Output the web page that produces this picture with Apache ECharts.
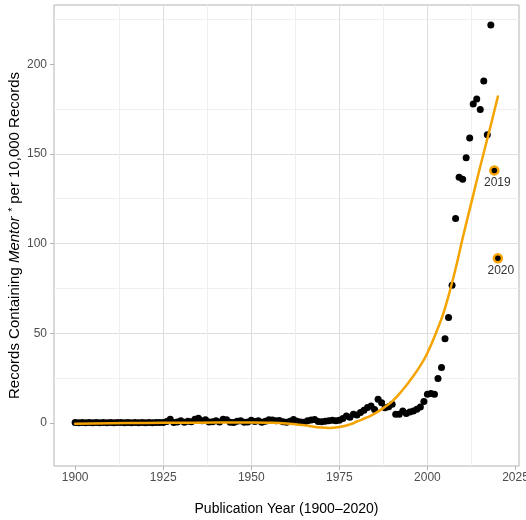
<!DOCTYPE html>
<html>
<head>
<meta charset="utf-8">
<script src="https://cdn.jsdelivr.net/npm/echarts@6/dist/echarts.min.js"></script>
<style>
  html, body { margin: 0; padding: 0; background: #fff; }
  #chart { width: 526px; height: 520px; }
</style>
</head>
<body>
<div id="chart"></div>
<script>
const years = [
  1900,1901,1902,1903,1904,1905,1906,1907,1908,1909,
  1910,1911,1912,1913,1914,1915,1916,1917,1918,1919,
  1920,1921,1922,1923,1924,1925,1926,1927,1928,1929,
  1930,1931,1932,1933,1934,1935,1936,1937,1938,1939,
  1940,1941,1942,1943,1944,1945,1946,1947,1948,1949,
  1950,1951,1952,1953,1954,1955,1956,1957,1958,1959,
  1960,1961,1962,1963,1964,1965,1966,1967,1968,1969,
  1970,1971,1972,1973,1974,1975,1976,1977,1978,1979,
  1980,1981,1982,1983,1984,1985,1986,1987,1988,1989,
  1990,1991,1992,1993,1994,1995,1996,1997,1998,1999,
  2000,2001,2002,2003,2004,2005,2006,2007,2008,2009,
  2010,2011,2012,2013,2014,2015,2016,2017,2018,2019,
  2020
];
const mentorRate = [
  0.2,0.1,0.2,0.1,0.2,0.1,0.2,0.1,0.2,0.1,
  0.2,0.1,0.2,0.2,0.1,0.2,0.1,0.2,0.1,0.2,
  0.1,0.2,0.1,0.2,0.3,0.2,0.8,2.0,0.3,0.5,
  1.2,0.4,1.0,0.6,2.0,2.6,1.2,1.8,0.5,0.6,
  1.2,0.5,2.0,1.8,0.4,0.3,1.0,1.2,0.4,0.5,
  1.5,0.8,1.2,0.4,1.0,1.8,1.6,1.2,1.4,0.6,
  0.4,1.0,1.9,1.0,0.5,0.4,1.2,1.6,1.9,0.8,
  0.6,1.0,1.2,1.5,1.2,1.5,2.5,3.9,3.2,4.8,
  4.5,5.8,7.1,8.6,9.5,7.5,13.2,11.3,8.5,9.0,
  10.4,4.8,4.8,6.7,5.2,6.1,6.7,7.6,8.9,11.9,
  16.0,16.4,16.0,24.8,30.9,46.9,58.8,76.7,114.0,137.0,
  135.8,147.9,158.8,177.8,180.6,174.7,190.7,160.7,221.8,140.8,
  91.8
];
const fitYears  = [1900, 1910, 1920, 1930, 1940, 1950, 1955, 1960, 1965, 1970, 1972, 1975, 1978, 1980, 1983, 1985, 1988, 1990, 1993, 1995, 1998, 2000, 2003, 2005, 2008, 2010, 2013, 2015, 2018, 2020];
const fitValues = [-0.4, -0.2,  0.0,  0.1,  0.2,  0.2,  0.1, -0.3, -1.3, -2.6, -2.8, -2.2, -0.8,  0.8,  3.2,  5.2,  9.0, 12.0, 18.5, 23.5, 32.0, 39.0, 53.0, 64.0, 86.0, 103.0, 127.0, 143.0, 166.0, 182.0];
const highlightYears = [2019, 2020];
const xTickValues = [1900, 1925, 1950, 1975, 2000, 2025];
const yTickValues = [0, 50, 100, 150, 200];

const FONT = 'Liberation Sans';
const ORANGE = '#F5A300';

const points = years.map((y, i) => [y, mentorRate[i]]);
const fitLine = fitYears.map((y, i) => [y, fitValues[i]]);
const highlights = highlightYears.map(y => [y, mentorRate[years.indexOf(y)]]);

const chart = echarts.init(document.getElementById('chart'), null, { renderer: 'canvas' });
chart.setOption({
  backgroundColor: '#fff',
  animation: false,
  textStyle: { fontFamily: FONT },
  grid: {
    left: 54, right: 7, top: 5, bottom: 54,
    containLabel: false,
    outerBoundsMode: 'none',
    show: true, borderColor: '#B3B3B3', borderWidth: 1, backgroundColor: 'transparent'
  },
  xAxis: {
    type: 'value',
    min: 1894, max: 2026,
    minInterval: 25, maxInterval: 25, splitNumber: 5,
    name: 'Publication Year (1900\u20132020)',
    nameLocation: 'middle',
    nameGap: 36,
    nameMoveOverlap: false,
    nameTextStyle: { fontFamily: FONT, fontSize: 14, color: '#000' },
    axisLine: { show: false, onZero: false },
    axisTick: { show: true, length: 4, customValues: xTickValues, lineStyle: { color: '#B3B3B3' } },
    axisLabel: { customValues: xTickValues, margin: 6, fontFamily: FONT, fontSize: 12, color: '#4D4D4D',
      formatter: v => String(v) },
    splitLine: { show: true, showMinLine: false, showMaxLine: false, lineStyle: { color: '#DEDEDE', width: 1 } },
    minorTick: { show: false, splitNumber: 2 },
    minorSplitLine: { show: true, lineStyle: { color: '#EFEFEF', width: 1 } }
  },
  yAxis: {
    type: 'value',
    min: -24, max: 233,
    minInterval: 50, maxInterval: 50, splitNumber: 5,
    name: '{n|Records Containing }{i|Mentor}{n| }{s|*}{n| per 10,000 Records}',
    nameLocation: 'middle',
    nameGap: 32,
    nameMoveOverlap: false,
    nameTextStyle: {
      fontFamily: FONT, fontSize: 15, color: '#000',
      rich: {
        n: { fontFamily: FONT, fontSize: 15, color: '#000' },
        i: { fontFamily: FONT, fontSize: 15, color: '#000', fontStyle: 'italic' },
        s: { fontFamily: FONT, fontSize: 11, color: '#000', fontStyle: 'italic', verticalAlign: 'top' }
      }
    },
    axisLine: { show: false, onZero: false },
    axisTick: { show: true, length: 4, customValues: yTickValues, lineStyle: { color: '#B3B3B3' } },
    axisLabel: { customValues: yTickValues, margin: 7, fontFamily: FONT, fontSize: 12, color: '#4D4D4D',
      formatter: v => String(v) },
    splitLine: { show: true, showMinLine: false, showMaxLine: false, lineStyle: { color: '#DEDEDE', width: 1 } },
    minorTick: { show: false, splitNumber: 2 },
    minorSplitLine: { show: true, lineStyle: { color: '#EFEFEF', width: 1 } }
  },
  series: [
    {
      type: 'scatter',
      data: points,
      symbol: 'circle',
      symbolSize: 7,
      itemStyle: { color: '#000', opacity: 1 },
      z: 2
    },
    {
      type: 'line',
      data: fitLine,
      smooth: 0.5,
      showSymbol: false,
      lineStyle: { color: ORANGE, width: 2.5, cap: 'round' },
      z: 3
    },
    {
      type: 'scatter',
      data: highlights,
      symbol: 'circle',
      symbolSize: 8,
      itemStyle: { color: '#000', borderColor: ORANGE, borderWidth: 2.5, opacity: 1 },
      label: {
        show: true, position: 'bottom', distance: 1, offset: [3, 0],
        fontFamily: FONT, fontSize: 12, color: '#333',
        formatter: p => String(p.value[0])
      },
      z: 4
    }
  ]
});
</script>
</body>
</html>
